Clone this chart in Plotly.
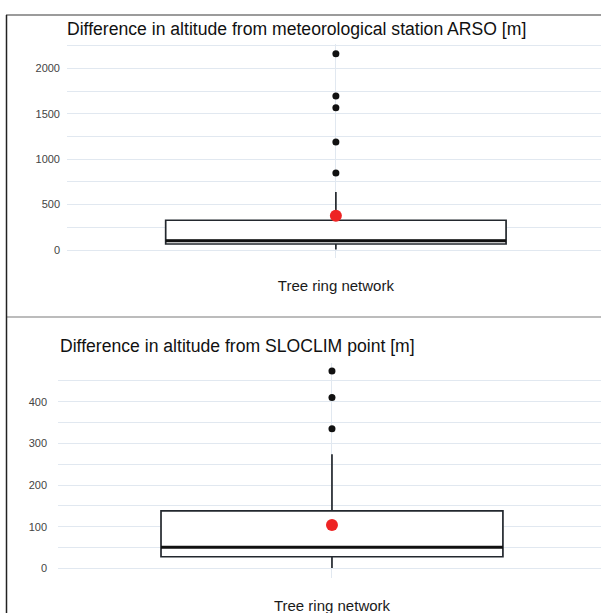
import plotly.graph_objects as go

W, H = 601, 613

category = ["Tree ring network"]

# Panel 1: difference from ARSO station [m]
arso_q1 = [66]
arso_median = [103]
arso_q3 = [328]
arso_lower = [5]
arso_upper = [640]
arso_outliers = [849, 1190, 1568, 1696, 2162]
arso_mean = [377]

# Panel 2: difference from SLOCLIM point [m]
slo_q1 = [28]
slo_median = [51]
slo_q3 = [138]
slo_lower = [1]
slo_upper = [274]
slo_outliers = [335, 410, 474]
slo_mean = [104]

titles = ["Difference in altitude from meteorological station ARSO [m]",
          "Difference in altitude from SLOCLIM point [m]"]

def px_x(p):
    return p / W

def px_y(p):
    return 1 - p / H

fig = go.Figure()

grid = "#E1E8F0"
boxline = "#23282e"

def add_panel(xa, ya, q1, med, q3, lo, up, outs, mean, width):
    fig.add_trace(go.Box(
        x=category, q1=q1, median=med, q3=q3, lowerfence=lo, upperfence=up,
        xaxis=xa, yaxis=ya, width=width, fillcolor="white", whiskerwidth=0,
        line=dict(color=boxline, width=1.7), boxpoints=False,
        showlegend=False, hoverinfo="skip"))
    # thicker median line
    fig.add_trace(go.Box(
        x=category, q1=med, median=med, q3=med, lowerfence=med, upperfence=med,
        xaxis=xa, yaxis=ya, width=width, fillcolor="rgba(0,0,0,0)", whiskerwidth=0,
        line=dict(color="#111111", width=3), boxpoints=False,
        showlegend=False, hoverinfo="skip"))
    fig.add_trace(go.Scatter(
        x=category * len(outs), y=outs, mode="markers", xaxis=xa, yaxis=ya,
        marker=dict(color="#111111", size=7), showlegend=False))
    fig.add_trace(go.Scatter(
        x=category, y=mean, mode="markers", xaxis=xa, yaxis=ya,
        marker=dict(color="#EE2424", size=12), showlegend=False))

add_panel("x", "y", arso_q1, arso_median, arso_q3, arso_lower, arso_upper,
          arso_outliers, arso_mean, 0.633)
add_panel("x2", "y2", slo_q1, slo_median, slo_q3, slo_lower, slo_upper,
          slo_outliers, slo_mean, 0.624)

axis_common = dict(showline=False, zeroline=False, gridcolor=grid, gridwidth=1)

fig.update_layout(
    width=W, height=H,
    margin=dict(l=0, r=0, t=0, b=0),
    paper_bgcolor="white", plot_bgcolor="white",
    font=dict(family="Liberation Sans, Arial, sans-serif", color="#222222"),
    xaxis=dict(domain=[px_x(67), 1], anchor="y", range=[-0.5, 0.493],
               showgrid=True, ticks="", tickfont=dict(size=15, color="#1a1a1a"),
               ticklabelstandoff=17, **axis_common),
    yaxis=dict(domain=[px_y(258), px_y(44)], anchor="x", range=[-88, 2270],
               tickvals=[0, 500, 1000, 1500, 2000], ticks="",
               tickfont=dict(size=11, color="#444444"), ticklabelstandoff=6,
               minor=dict(dtick=250, showgrid=True, gridcolor=grid, gridwidth=1),
               **axis_common),
    xaxis2=dict(domain=[px_x(58), 1], anchor="y2", range=[-0.5, 0.491],
                showgrid=True, ticks="", tickfont=dict(size=15, color="#1a1a1a"),
                ticklabelstandoff=17, **axis_common),
    yaxis2=dict(domain=[px_y(578), px_y(363)], anchor="x2", range=[-23, 493],
                tickvals=[0, 100, 200, 300, 400], ticks="",
                tickfont=dict(size=11, color="#444444"), ticklabelstandoff=10,
                minor=dict(dtick=50, showgrid=True, gridcolor=grid, gridwidth=1),
                **axis_common),
)

fig.add_annotation(text=titles[0], xref="paper", yref="paper",
                   x=px_x(65), y=px_y(29), xanchor="left", yanchor="middle",
                   showarrow=False, font=dict(size=17.6, color="#111111"))
fig.add_annotation(text=titles[1], xref="paper", yref="paper",
                   x=px_x(58), y=px_y(346), xanchor="left", yanchor="middle",
                   showarrow=False, font=dict(size=17.6, color="#111111"))

# panel frames
fig.add_shape(type="line", xref="paper", yref="paper",
              x0=px_x(6), x1=1, y0=px_y(15), y1=px_y(15),
              line=dict(color="#7a7a7a", width=1.5))
fig.add_shape(type="line", xref="paper", yref="paper",
              x0=px_x(6), x1=1, y0=px_y(317), y1=px_y(317),
              line=dict(color="#7a7a7a", width=1.2))
fig.add_shape(type="line", xref="paper", yref="paper",
              x0=px_x(6.5), x1=px_x(6.5), y0=px_y(15), y1=0,
              line=dict(color="#222222", width=1.5))

fig.write_html("out.html")
